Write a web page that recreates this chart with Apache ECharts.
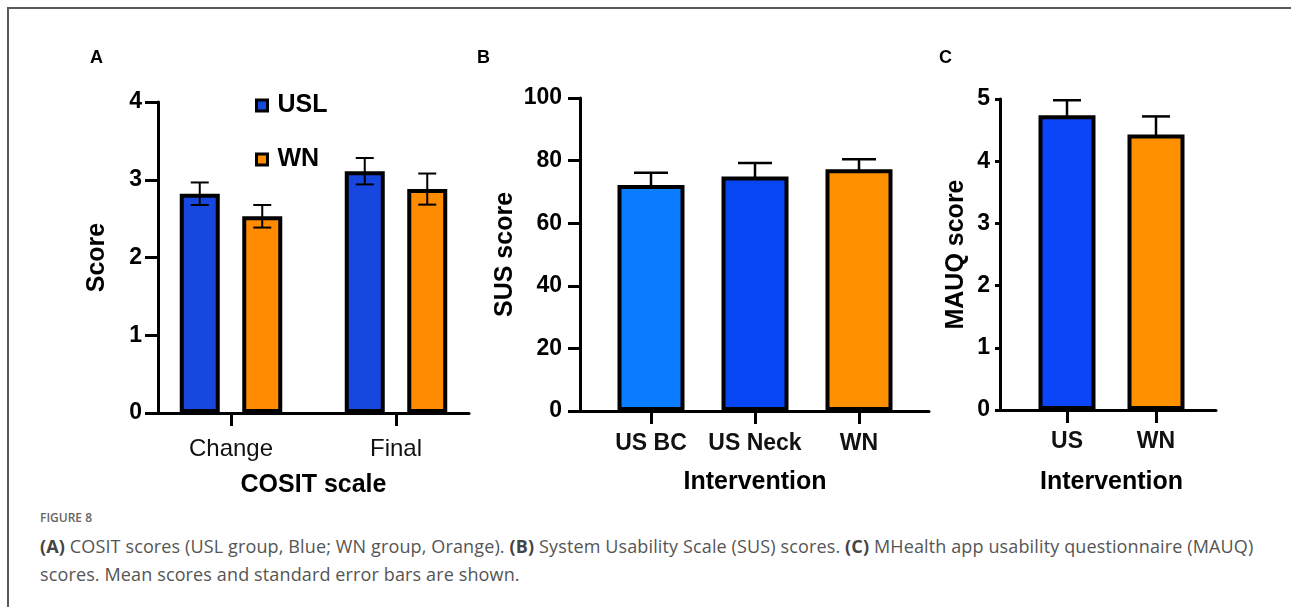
<!DOCTYPE html>
<html><head><meta charset="utf-8">
<script src="https://cdn.jsdelivr.net/npm/echarts@6/dist/echarts.min.js"></script>
<style>
html,body{margin:0;padding:0;background:#fff;width:1291px;height:607px;overflow:hidden;position:relative;}
#frame{position:absolute;left:7px;top:7px;width:1300px;height:620px;border-top:2px solid #5a5a5a;border-left:2px solid #5a5a5a;}
#chart{position:absolute;left:0;top:0;width:1291px;height:505px;}
.cap{position:absolute;left:40px;font-family:'Open Sans',sans-serif;color:#555;white-space:nowrap;}
.cap b{font-weight:700;color:#444;}
</style></head><body>
<div id="frame"></div>
<div id="chart"></div>
<div class="cap" style="top:509px;font-size:12px;font-weight:600;color:#666;">FIGURE 8</div>
<div class="cap" style="top:532px;font-size:18px;line-height:28px;letter-spacing:0.13px;"><b>(A)</b> COSIT scores (USL group, Blue; WN group, Orange). <b>(B)</b> System Usability Scale (SUS) scores. <b>(C)</b> MHealth app usability questionnaire (MAUQ)<br>scores. Mean scores and standard error bars are shown.</div>
<script>
// ---- Data ----
const cositCategories = ['Change', 'Final'];
const uslMean = [2.82, 3.11];
const uslSE = [0.145, 0.17];
const wnMean = [2.53, 2.88];
const wnSE = [0.145, 0.20];

const susCategories = ['US BC', 'US Neck', 'WN'];
const susMean = [72.2, 74.9, 77.2];
const susSE = [3.9, 4.3, 3.2];

const mauqCategories = ['US', 'WN'];
const mauqMean = [4.74, 4.43];
const mauqSE = [0.24, 0.29];

const cositRange = [0, 4, 1];
const susRange = [0, 100, 20];
const mauqRange = [0, 5, 1];

// ---- Styles ----
const FONT = "'Liberation Sans', Arial, sans-serif";
const BLUE = '#1648e0';
const ORANGE = '#ff8c00';
const SUS_COLORS = ['#0a7cff', '#0647f3', '#ff9100'];
const MAUQ_COLORS = ['#0a45f7', '#ff9100'];

const chart = echarts.init(document.getElementById('chart'));

function errRender(offsetPx, capHalf, lw) {
  return function (params, api) {
    const i = api.value(0), m = api.value(1), se = api.value(2);
    const t = api.coord([i, m + se]);
    const b = api.coord([i, m - se]);
    const x = t[0] + offsetPx;
    const st = { stroke: '#000', lineWidth: lw };
    return { type: 'group', children: [
      { type: 'line', shape: { x1: x, y1: t[1], x2: x, y2: b[1] }, style: st },
      { type: 'line', shape: { x1: x - capHalf, y1: t[1], x2: x + capHalf, y2: t[1] }, style: st },
      { type: 'line', shape: { x1: x - capHalf, y1: b[1], x2: x + capHalf, y2: b[1] }, style: st }
    ]};
  };
}
function errData(mean, se) { return mean.map((m, i) => [i, m, se[i]]); }

const lineAxis = { show: true, lineStyle: { color: '#000', width: 3 } };
function yAxisMain(grid, range, name, gap, tickLen, labelMargin) {
  return {
    gridIndex: grid, type: 'value', min: range[0], max: range[1], interval: range[2],
    axisLine: lineAxis,
    axisTick: { show: true, length: tickLen, lineStyle: { color: '#000', width: 3 } },
    axisLabel: { color: '#000', fontFamily: FONT, fontWeight: 'bold', fontSize: 23, margin: labelMargin },
    splitLine: { show: false },
    name: name, nameLocation: 'middle', nameGap: gap,
    nameTextStyle: { color: '#000', fontFamily: FONT, fontWeight: 'bold', fontSize: 25 }
  };
}
function yAxisHidden(grid, range) {
  return { gridIndex: grid, type: 'value', min: range[0], max: range[1], interval: range[2], show: false, splitLine: { show: false } };
}
function xAxisLine(grid, cats) {
  return { gridIndex: grid, type: 'category', data: cats, axisLine: lineAxis, axisTick: { show: false }, axisLabel: { show: false } };
}
function xAxisLabels(grid, cats, name, nameGap, labelFont, labelMargin) {
  return {
    gridIndex: grid, type: 'category', data: cats,
    axisLine: { show: false },
    axisTick: { show: true, alignWithLabel: true, interval: 0, length: 13, lineStyle: { color: '#000', width: 3 } },
    axisLabel: Object.assign({ color: '#111', fontFamily: FONT, margin: labelMargin, interval: 0, hideOverlap: false }, labelFont),
    name: name, nameLocation: 'middle', nameGap: nameGap,
    nameTextStyle: { color: '#000', fontFamily: FONT, fontWeight: 'bold', fontSize: 25 }
  };
}

const aBarW = 40, aGapRatio = 0.5625;
const aOffset = aBarW * (1 + aGapRatio) / 2;
const barBorder = { borderColor: '#000', borderWidth: 4 };
const letterStyle = { fontFamily: FONT, fontWeight: 'bold', fontSize: 18, color: '#000' };

const option = {
  animation: false,
  title: [
    { text: 'A', left: 90, top: 49, padding: 0, textStyle: letterStyle },
    { text: 'B', left: 477, top: 49, padding: 0, textStyle: letterStyle },
    { text: 'C', left: 939, top: 49, padding: 0, textStyle: letterStyle }
  ],
  legend: {
    data: ['USL', 'WN'], orient: 'vertical', left: 255, top: 93, itemGap: 29, padding: 0,
    icon: 'rect', itemWidth: 11, itemHeight: 11,
    itemStyle: { borderColor: '#000', borderWidth: 3 },
    textStyle: { fontFamily: FONT, fontWeight: 'bold', fontSize: 25, color: '#000', padding: [0, 0, 0, 5] },
    selectedMode: false
  },
  grid: [
    { left: 158, top: 102, width: 311, height: 311 },
    { left: 148.5, top: 102, width: 330, height: 311 },
    { left: 580, top: 98, width: 349, height: 313 },
    { left: 599, top: 98, width: 312, height: 313 },
    { left: 1000, top: 99, width: 216, height: 311 },
    { left: 1022.5, top: 99, width: 178, height: 311 }
  ],
  xAxis: [
    xAxisLine(0, cositCategories),
    xAxisLabels(1, cositCategories, 'COSIT scale', 60, { fontSize: 24, fontWeight: 'normal' }, 24),
    xAxisLine(2, susCategories),
    xAxisLabels(3, susCategories, 'Intervention', 59, { fontSize: 23, fontWeight: 'bold' }, 21),
    xAxisLine(4, mauqCategories),
    xAxisLabels(5, mauqCategories, 'Intervention', 60, { fontSize: 23, fontWeight: 'bold' }, 20)
  ],
  yAxis: [
    yAxisMain(0, cositRange, 'Score', 48, 13, 16),
    yAxisHidden(1, cositRange),
    yAxisMain(2, susRange, 'SUS score', 62, 12, 18),
    yAxisHidden(3, susRange),
    yAxisMain(4, mauqRange, 'MAUQ score', 31, 5, 10),
    yAxisHidden(5, mauqRange)
  ],
  series: [
    { name: 'USL', type: 'bar', xAxisIndex: 1, yAxisIndex: 1, data: uslMean, barWidth: aBarW, barGap: (aGapRatio * 100) + '%', z: 2,
      itemStyle: Object.assign({ color: BLUE }, barBorder) },
    { name: 'WN', type: 'bar', xAxisIndex: 1, yAxisIndex: 1, data: wnMean, barWidth: aBarW, barGap: (aGapRatio * 100) + '%', z: 2,
      itemStyle: Object.assign({ color: ORANGE }, barBorder) },
    { type: 'custom', xAxisIndex: 1, yAxisIndex: 1, z: 3, renderItem: errRender(-aOffset, 9, 2), data: errData(uslMean, uslSE), encode: { x: 0, y: 1 } },
    { type: 'custom', xAxisIndex: 1, yAxisIndex: 1, z: 3, renderItem: errRender(aOffset, 9, 2), data: errData(wnMean, wnSE), encode: { x: 0, y: 1 } },

    { type: 'bar', xAxisIndex: 3, yAxisIndex: 3, barWidth: 67, z: 2,
      data: susMean.map((v, i) => ({ value: v, itemStyle: Object.assign({ color: SUS_COLORS[i] }, barBorder) })) },
    { type: 'custom', xAxisIndex: 3, yAxisIndex: 3, z: 1, renderItem: errRender(0, 17, 2.5), data: errData(susMean, susSE), encode: { x: 0, y: 1 } },

    { type: 'bar', xAxisIndex: 5, yAxisIndex: 5, barWidth: 57, z: 2,
      data: mauqMean.map((v, i) => ({ value: v, itemStyle: Object.assign({ color: MAUQ_COLORS[i] }, barBorder) })) },
    { type: 'custom', xAxisIndex: 5, yAxisIndex: 5, z: 1, renderItem: errRender(0, 14, 2.5), data: errData(mauqMean, mauqSE), encode: { x: 0, y: 1 } }
  ]
};
chart.setOption(option);
</script>
</body></html>
